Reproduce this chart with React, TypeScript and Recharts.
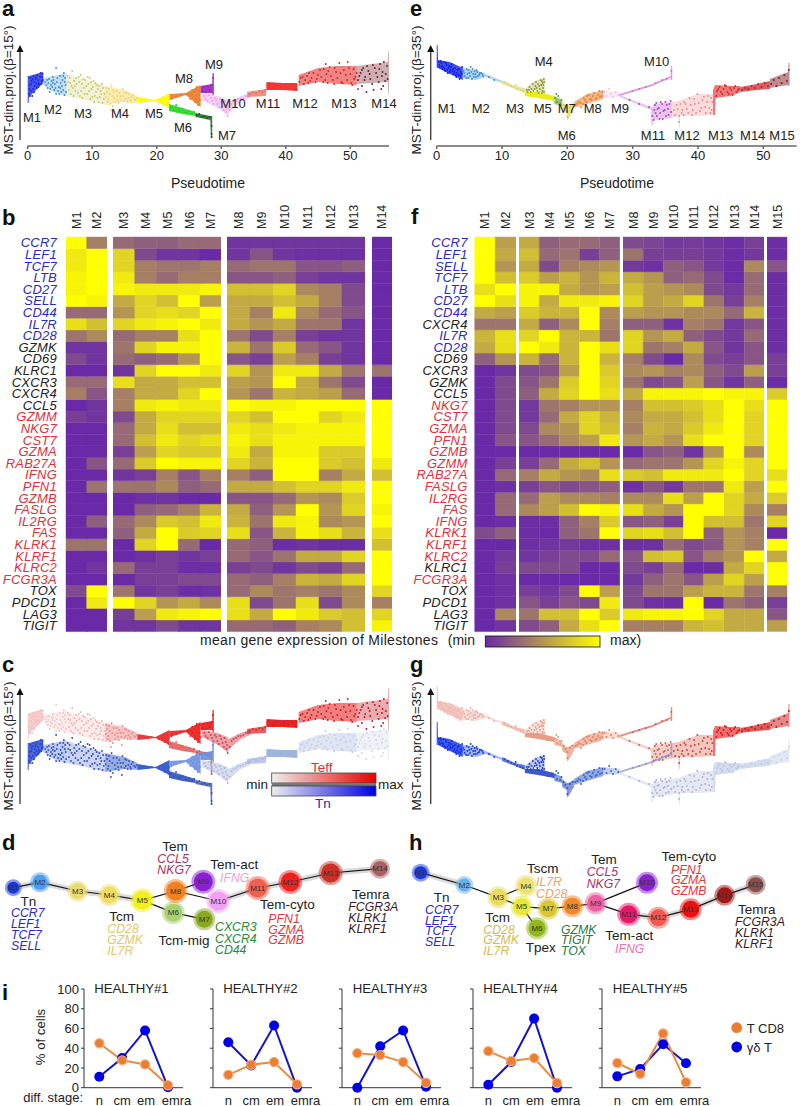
import {
  Area,
  Bar,
  BarChart,
  Cell,
  ComposedChart,
  Line,
  LineChart,
  Scatter,
  ScatterChart,
  XAxis,
  YAxis,
} from "recharts";

const FONT = "'Liberation Sans', Arial, sans-serif";

// ---------- trajectories (a, c: beta 15 / e, g: beta 35) ----------
// bands are [pseudotime, low, high] per milestone, points are [pseudotime, proj]
const aBands = [
  [[0, 43, 70], [0.15, 43, 70], [0.2, 49, 70], [2.4, 63, 74]],
  [[2.4, 61, 68], [4, 54, 70], [6, 50, 73]],
  [[6, 50, 72], [9, 46, 66], [12, 41, 60]],
  [[12, 41, 60], [15, 44, 56], [17, 43, 50]],
  [[17, 43, 49], [19.8, 45, 46], [22, 38, 53]],
  [[21.9, 35, 42], [24, 32, 38], [26, 30, 34]],
  [[26, 29, 33], [28.3, 26, 30], [28.4, 8, 30], [28.6, 8, 30]],
  [[22, 46, 52], [24.5, 51, 53], [26.8, 39, 61]],
  [[26.8, 53, 60], [28.6, 53, 62], [28.65, 51, 73], [28.85, 51, 73]],
  [[27, 46, 53], [29.5, 38, 50], [30.9, 31, 46], [31, 28, 46], [31.1, 33, 44], [33, 44, 50], [34.5, 48, 53]],
  [[34, 49, 54], [36.9, 50, 57], [37, 55, 64]],
  [[37, 56, 64], [39.5, 56, 63], [41.8, 55, 63]],
  [[42, 60, 71], [45, 64, 78], [48, 62, 80], [51, 61, 80]],
  [[51, 62, 80], [55.8, 64, 84], [55.9, 52, 95], [56, 52, 95]],
];

const aPoints = [
  [[0.2, 52], [0.3, 61], [0.4, 68], [0.5, 55], [0.6, 65], [0.8, 57], [0.9, 70], [1.1, 60], [1.2, 67], [1.4, 58], [1.5, 71], [1.7, 63], [1.9, 69], [2, 73], [2.2, 65], [2.3, 72], [0.25, 57], [0.35, 50], [0.55, 62], [0.7, 50], [0.75, 67], [1, 54], [1.05, 64], [1.3, 69], [1.35, 62], [1.6, 66], [1.65, 59], [1.8, 61], [2.1, 62], [2.25, 69], [2.35, 66]],
  [[2.7, 64], [3.1, 58], [3.3, 67], [3.6, 61], [3.9, 69], [4.1, 56], [4.4, 78], [4.5, 64], [4.8, 59], [5, 70], [5.2, 54], [5.4, 66], [5.6, 73], [5.7, 51], [5.9, 61], [3.4, 54], [4.2, 62], [4.9, 52], [5.3, 60], [2.9, 61], [3, 66], [3.2, 63], [3.5, 57], [3.7, 65], [3.8, 59], [4, 66], [4.3, 58], [4.6, 68], [4.7, 55], [5.1, 63], [5.5, 56], [5.8, 68], [5.95, 54], [5.5, 70], [4.4, 52], [3.9, 63], [5.05, 58], [5.75, 64]],
  [[6.2, 70], [6.4, 56], [6.6, 63], [6.9, 75], [7.1, 50], [7.3, 60], [7.5, 68], [7.8, 53], [8, 64], [8.2, 71], [8.5, 48], [8.7, 58], [8.9, 66], [9.2, 52], [9.4, 62], [9.7, 47], [9.9, 57], [10.2, 65], [10.4, 50], [10.7, 61], [11, 44], [11.3, 55], [11.5, 62], [11.8, 47], [7, 58], [8.3, 55], [9.6, 68], [10.6, 54], [6.3, 64], [6.5, 68], [6.7, 52], [6.8, 60], [7.2, 65], [7.4, 55], [7.6, 62], [7.9, 69], [8.1, 50], [8.4, 62], [8.6, 67], [8.8, 52], [9.1, 60], [9.3, 69], [9.5, 55], [9.8, 64], [10, 49], [10.1, 59], [10.3, 44], [10.5, 63], [10.8, 48], [10.9, 57], [11.1, 60], [11.2, 49], [11.4, 52], [11.6, 43], [11.7, 58], [11.9, 52]],
  [[12.2, 58], [12.4, 44], [12.7, 52], [13, 60], [13.2, 40], [13.5, 48], [13.8, 55], [14.1, 43], [14.4, 50], [14.7, 57], [15, 45], [15.3, 53], [15.6, 48], [16, 44], [16.3, 51], [16.7, 46], [12.9, 36], [14.6, 38], [12.1, 49], [12.3, 54], [12.5, 47], [12.6, 57], [12.8, 42], [13.1, 50], [13.3, 55], [13.6, 44], [13.9, 50], [14, 46], [14.2, 53], [14.5, 46], [14.8, 50], [15.1, 54], [15.2, 47], [15.5, 44], [15.7, 52], [15.9, 46], [16.1, 49], [16.5, 47], [16.9, 48]],
  [[18, 47], [18.6, 45], [19.2, 46], [20.3, 44], [20.8, 48], [21.2, 41], [21.5, 50], [21.8, 39], [21.9, 46]],
  [[22.2, 39], [22.6, 36], [23, 41], [23.5, 35], [24, 37], [24.5, 33], [25, 35], [25.5, 32], [25.8, 34]],
  [[26.2, 31], [26.6, 32], [27, 29], [27.4, 30], [27.8, 28], [28.2, 29], [28.5, 20], [28.5, 12], [28.5, 9]],
  [[22.3, 47], [23, 49], [23.7, 51], [24.8, 52], [25.2, 47], [25.5, 56], [25.9, 44], [26.2, 59], [26.4, 41], [26.6, 51], [25.6, 50], [25.8, 54], [26, 47], [26.1, 57], [26.3, 44], [26.5, 55], [26.7, 46], [26.7, 58], [25.3, 52], [26.2, 50]],
  [[27, 55], [27.3, 59], [27.6, 54], [27.9, 60], [28.2, 56], [28.5, 61], [28.7, 68]],
  [[27.4, 50], [27.9, 45], [28.4, 48], [28.8, 42], [29.2, 46], [29.6, 39], [30, 44], [30.4, 36], [30.7, 41], [31, 30], [31.6, 42], [32.3, 45], [33, 47], [33.8, 50], [27.6, 47], [28.1, 51], [28.6, 45], [29, 48], [29.4, 42], [29.8, 47], [30.2, 40], [30.5, 45], [30.8, 34], [30.9, 38], [31.3, 36], [31.9, 44], [32.6, 47], [33.4, 48], [34.1, 51]],
  [[34.4, 52], [34.9, 54], [35.4, 53], [35.9, 55], [36.4, 54], [36.8, 56]],
  [[37.4, 62], [38, 58], [38.6, 61], [39.2, 59], [39.8, 60], [40.4, 58], [41, 61], [41.6, 57]],
  [[42.3, 68], [42.8, 62], [43.3, 70], [43.8, 65], [44.3, 73], [44.8, 67], [45.3, 76], [45.8, 64], [46.3, 72], [46.8, 79], [47.3, 66], [47.8, 74], [48.3, 83], [48.8, 63], [49.3, 71], [49.8, 78], [50.3, 61], [50.8, 69], [51.2, 57], [42.1, 64], [42.6, 69], [43, 66], [43.5, 63], [43.6, 73], [44, 68], [44.6, 64], [45, 71], [45.5, 69], [45.9, 77], [46.1, 66], [46.5, 63], [46.6, 75], [47, 70], [47.5, 62], [47.6, 78], [48, 68], [48.5, 73], [48.6, 64], [49, 76], [49.5, 66], [50, 72], [50.1, 63], [50.5, 77], [50.6, 67], [51, 73], [46.2, 82], [49.6, 84]],
  [[51.4, 70], [51.8, 76], [52.2, 66], [52.6, 80], [53, 72], [53.4, 62], [53.8, 78], [54.2, 69], [54.6, 82], [55, 74], [55.4, 65], [55.7, 80], [52.5, 54], [54.8, 57], [51.2, 66], [51.6, 73], [52, 78], [52.3, 69], [52.8, 75], [53.1, 67], [53.5, 81], [54, 73], [54.4, 64], [54.5, 77], [54.9, 70], [55.2, 84], [55.5, 72], [55.8, 67], [53.6, 56], [55.1, 60], [51.8, 60]],
];

const eBands = [
  [[0, 78, 101], [0.15, 78, 101], [0.2, 78, 86], [2, 72, 84], [4, 66, 78]],
  [[4, 68, 78], [6, 66, 76], [7.5, 69, 72], [10, 63, 65]],
  [[10, 62, 66], [12, 57, 60], [13.5, 53, 58]],
  [[13.5, 54, 57], [15, 56, 65], [16.4, 52, 68], [16.55, 52, 68]],
  [[13.5, 50, 54], [15.5, 48, 54], [18, 45, 50]],
  [[18, 42, 50], [19.2, 40, 46]],
  [[19.2, 36, 44], [19.9, 33, 40], [19.95, 26, 40], [20.1, 26, 40], [21, 36, 43]],
  [[21, 38, 44], [23, 42, 52], [25.5, 47, 56]],
  [[25.5, 48, 56], [28, 49, 54]],
  [[28, 50, 52], [33, 60, 62], [35.8, 68, 70], [35.85, 66, 80], [36.05, 66, 80]],
  [[28, 49, 51], [32.8, 36, 39], [32.85, 21, 39], [33.1, 21, 39], [33.2, 26, 42], [36, 28, 44]],
  [[36, 28, 44], [37, 30, 45], [37.05, 18, 45], [37.2, 18, 45], [37.3, 30, 46], [40, 30, 52], [42.3, 31, 52]],
  [[42.3, 31, 56], [42.6, 31, 61], [42.7, 48, 61], [45, 50, 60], [46.5, 54, 60]],
  [[46.5, 54, 59], [49, 56, 62], [51, 57, 65]],
  [[51, 58, 67], [53.8, 61, 74], [53.85, 60, 83], [54, 60, 83]],
];

const ePoints = [
  [[0.3, 84], [0.5, 79], [0.7, 83], [0.9, 77], [1.1, 84], [1.3, 75], [1.5, 81], [1.7, 73], [1.9, 80], [2.1, 76], [2.3, 82], [2.6, 72], [2.8, 78], [3, 69], [3.2, 76], [3.5, 67], [3.7, 74], [3.9, 79], [0.4, 81], [0.6, 85], [0.8, 80], [1, 79], [1.2, 77], [1.4, 83], [1.6, 76], [1.8, 78], [2, 74], [2.2, 79], [2.4, 75], [2.5, 77], [2.7, 74], [2.9, 71], [3.1, 73], [3.3, 71], [3.4, 77], [3.6, 70], [3.8, 72]],
  [[4.1, 75], [4.3, 70], [4.6, 77], [4.8, 68], [5, 73], [5.2, 79], [5.4, 67], [5.6, 72], [5.8, 75], [6, 69], [6.2, 74], [6.5, 71], [6.8, 73], [7.1, 70], [8, 69], [8.8, 66], [4.2, 73], [4.5, 68], [4.7, 72], [4.9, 76], [5.1, 70], [5.3, 74], [5.5, 77], [5.7, 69], [5.9, 72], [6.1, 76], [6.3, 70], [6.6, 73], [7, 72]],
  [[10.4, 64], [10.9, 62], [11.4, 60], [11.9, 59], [12.3, 57], [12.8, 56], [13.2, 55], [12.1, 61]],
  [[13.8, 56], [14.2, 59], [14.4, 54], [14.7, 62], [15, 57], [15.2, 64], [15.4, 55], [15.7, 60], [15.9, 66], [16.1, 53], [16.2, 63], [16.3, 58], [16.4, 67], [13.9, 54], [14.1, 56], [14.5, 57], [14.8, 55], [15.1, 60], [15.3, 58], [15.5, 62], [15.6, 53], [15.8, 57], [16, 61], [16.1, 65], [16.2, 55], [16.3, 61], [16.45, 54], [16.45, 64]],
  [[14, 52], [14.6, 50], [15.2, 53], [15.8, 49], [16.4, 51], [17, 47], [17.6, 49], [17.9, 46]],
  [[18.1, 48], [18.4, 44], [18.6, 50], [18.9, 43], [19.1, 46], [18.3, 52]],
  [[19.4, 41], [19.7, 38], [20, 35], [20, 29], [20.4, 39], [20.8, 41]],
  [[21.2, 41], [21.7, 44], [22.1, 39], [22.5, 48], [22.9, 44], [23.3, 51], [23.7, 46], [24.1, 53], [24.5, 48], [24.9, 55], [25.3, 50], [21.5, 42], [22, 43], [22.4, 42], [22.7, 46], [23, 50], [23.5, 47], [23.9, 50], [24.3, 47], [24.7, 51], [25, 49], [25.4, 54]],
  [[25.7, 54], [26, 50], [26.4, 57], [26.7, 52], [27, 49], [27.4, 54], [27.8, 51]],
  [[30, 55], [31, 57], [32, 59], [33.5, 63], [34.5, 66], [35.2, 67], [35.9, 75]],
  [[29.5, 46], [31, 42], [32.5, 39], [33, 30], [33.4, 41], [33.7, 30], [34, 38], [34.3, 44], [34.6, 27], [34.9, 36], [35.2, 41], [35.5, 31], [35.8, 45], [33.2, 26], [33.3, 36], [33.5, 33], [33.6, 43], [33.8, 37], [34.1, 27], [34.2, 33], [34.5, 42], [34.7, 35], [35, 44], [35.1, 30], [35.4, 37], [35.6, 42], [35.9, 34]],
  [[36.3, 36], [36.7, 41], [37.1, 24], [37.5, 33], [37.9, 44], [38.3, 37], [38.7, 48], [39.1, 31], [39.5, 42], [39.9, 52], [40.3, 35], [40.7, 46], [41.1, 39], [41.5, 50], [41.9, 33], [42.2, 44], [36.5, 31], [36.9, 37], [37.1, 30], [37.3, 42], [37.6, 36], [37.8, 31], [38.1, 42], [38.5, 33], [38.9, 41], [39.2, 36], [39.4, 47], [39.7, 33], [40.1, 43], [40.5, 38], [40.9, 49], [41.2, 33], [41.4, 44], [41.7, 38], [42, 48], [42.1, 36]],
  [[42.9, 55], [43.3, 59], [43.7, 52], [44.1, 61], [44.5, 54], [44.9, 58], [45.3, 51], [45.7, 60], [46.1, 56], [42.8, 50], [43.1, 57], [43.5, 54], [43.9, 57], [44.3, 60], [44.7, 52], [45.1, 56], [45.5, 58], [45.9, 54], [46.3, 57]],
  [[46.7, 56], [47.2, 58], [47.7, 57], [48.2, 60], [48.7, 58], [49.2, 62], [49.7, 59], [50.2, 63], [50.7, 60]],
  [[51.2, 62], [51.6, 66], [52, 60], [52.4, 68], [52.8, 63], [53.2, 71], [53.6, 65], [53.9, 76]],
];

const aColors = ["#1a2ae0", "#3b8fd2", "#c9c860", "#efd66a", "#fbfb10", "#20d820", "#0f5a14", "#ea7a2a", "#9a1fc4", "#ee9fe8", "#ea6a58", "#f22c2c", "#de2020", "#6e1a22"];
const eColors = ["#1020e8", "#3a8fcf", "#dcd66c", "#8f9a2c", "#e8ec10", "#5a9a2a", "#d8d040", "#e97d2a", "#f3b8ec", "#d070d0", "#b040c0", "#e88a8a", "#e02020", "#c81820", "#7a1a20"];
const cReds = ["#f4c0c0", "#f2c5c5", "#f0b0b0", "#ee8a8a", "#e83838", "#e06060", "#cc5a5a", "#ee1c1c", "#e81818", "#d84050", "#d92a2a", "#e81818", "#e01818", "#c01420"];
const cBlues = ["#2040d0", "#2c50d0", "#3050c0", "#3458c4", "#3a60cc", "#3050c0", "#3a50a8", "#6f90e0", "#6f90e0", "#b0b8e0", "#a8b4dc", "#9cb0dc", "#c4cee8", "#d0d8e8"];
const gReds = ["#f0b8b0", "#eeb0a8", "#eca898", "#e8a090", "#e89880", "#e89070", "#e08060", "#e88060", "#e88060", "#d86050", "#d06050", "#d04030", "#e01010", "#d01010", "#c81010"];
const gBlues = ["#1030e8", "#1840e0", "#2040c0", "#2040d0", "#3050c8", "#3060c0", "#3050c0", "#3860c8", "#3860c8", "#9090c8", "#a8b0d8", "#a8b4d8", "#b8c4e4", "#c0cce8", "#c8d0e8"];
const aOpacity = [0.8, 0.3, 0.25, 0.5, 1, 0.9, 0.8, 0.9, 0.9, 0.5, 0.75, 0.95, 0.55, 0.35];
const eOpacity = [0.8, 0.4, 0.7, 0.3, 0.95, 0.6, 0.6, 0.55, 0.3, 0.7, 0.3, 0.3, 0.6, 0.7, 0.5];
const pseudoTicks = [0, 10, 20, 30, 40, 50];

// ---------- heatmaps (0 = min, 10 = max) ----------
const genesB = ["CCR7", "LEF1", "TCF7", "LTB", "CD27", "SELL", "CD44", "IL7R", "CD28", "GZMK", "CD69", "KLRC1", "CXCR3", "CXCR4", "CCL5", "GZMM", "NKG7", "CST7", "GZMA", "RAB27A", "IFNG", "PFN1", "GZMB", "FASLG", "IL2RG", "FAS", "KLRK1", "KLRF1", "KLRC2", "FCGR3A", "TOX", "PDCD1", "LAG3", "TIGIT"];
const heatB = [
  [10, 4, 3, 2.5, 2.5, 3, 3, 0.5, 0.5, 0.5, 0.5, 0.5, 0.5, 0],
  [9, 10, 8, 1.5, 0.5, 0.5, 0, 0.5, 2, 0.5, 0.3, 0.3, 0.3, 0],
  [9, 10, 8, 4, 3.5, 3.5, 4, 3, 3.5, 3.5, 2, 2, 2.5, 0],
  [9.5, 10, 9, 4, 3, 4, 4, 2, 2, 2.5, 1, 0.5, 0.5, 0],
  [9.5, 10, 9.5, 9, 9, 9, 9.5, 7, 7, 8, 4.5, 4, 1.5, 0],
  [10, 9.5, 6, 8, 7, 10, 5.5, 6, 6, 7, 6, 4, 1.5, 0],
  [3, 3, 5, 8, 8.5, 8, 10, 6, 4, 9, 4.5, 3, 2, 0],
  [8.5, 7, 8, 9, 9.5, 10, 9, 6, 5, 6, 3.5, 3.5, 0.5, 0],
  [3.5, 4.5, 3, 4, 4, 8.5, 10, 3.5, 1.5, 4, 1, 0.5, 0.5, 0],
  [0.5, 0.5, 3.5, 8, 9.5, 9.5, 10, 6.5, 3.5, 7.5, 3, 2, 0.5, 0],
  [1.5, 0.5, 3, 2.5, 3, 5, 10, 2, 1, 5.5, 4, 1, 0.5, 0],
  [0, 0, 0.5, 8, 10, 10, 9, 8, 5, 9, 9, 6, 3.5, 3.5],
  [3, 3, 8.5, 6, 6, 7, 7, 5.5, 5, 10, 6, 3.5, 1.5, 0],
  [4, 2, 4, 6, 6, 8, 10, 5, 3.5, 6.5, 6, 5.5, 3, 0],
  [0, 0.5, 4, 9, 9.5, 9, 9, 10, 9.5, 9.5, 10, 10, 10, 10],
  [1, 0.5, 1.5, 6, 8, 8, 8, 8, 7, 10, 10, 8, 9, 10],
  [0, 0, 3, 6, 8.5, 7, 7, 9, 8.5, 9, 9.5, 9.5, 9.5, 10],
  [0, 0, 3, 7, 9, 8, 8.5, 9.5, 8.5, 9.5, 9.5, 9.5, 9.5, 10],
  [0, 0, 1, 5.5, 8, 7.5, 7.5, 9, 6, 9.5, 9.5, 7.5, 7.5, 10],
  [0, 2, 3, 7.5, 10, 9.5, 9.5, 8, 6.5, 10, 10, 7.5, 7, 9],
  [0, 0, 0.5, 1, 4, 2, 4, 4, 2.5, 10, 10, 4, 6, 7],
  [0, 3.5, 3.5, 3.5, 4.5, 2.5, 3, 6, 6, 7, 8, 8, 9, 10],
  [0, 0, 0, 0.3, 0.5, 0, 0, 2, 2, 3, 5, 4.5, 7.5, 10],
  [0, 0, 0, 2.5, 3, 4, 6.5, 6, 2.5, 5, 10, 5, 8, 9.5],
  [0, 2.5, 3, 4.5, 7.5, 7, 9, 6.5, 3.5, 9, 9.5, 4.5, 5, 10],
  [0, 0, 2.5, 6, 10, 7.5, 8, 8.5, 2, 6.5, 9.5, 8.5, 6.5, 8.5],
  [3.5, 3.5, 0, 8, 10, 3, 0, 3, 2.5, 0.2, 0.5, 0.2, 0.2, 7],
  [0, 0, 0, 0.3, 1, 0.5, 1, 3, 2, 3.5, 6, 6, 8, 10],
  [0, 0.5, 3, 1, 1, 0.2, 0.2, 1, 1.5, 0.5, 1.5, 1, 3, 10],
  [0, 0, 0, 1, 1, 1.5, 1.5, 3, 2.5, 4, 6.5, 6, 8, 10],
  [1.5, 10, 3.5, 0.5, 1, 0.2, 0.3, 3, 4.5, 3.5, 4, 3.5, 4.5, 8],
  [0, 9, 10, 8, 5, 6, 4.5, 8.5, 1.5, 3.5, 8.5, 1.5, 4.5, 4],
  [0, 0, 1, 5.5, 9, 9.5, 10, 8.5, 6, 10, 9, 7.5, 7, 8],
  [0, 0, 0.5, 0.5, 1.5, 0.5, 0.5, 3, 3, 2.5, 4, 4.5, 7, 9.5],
];
const blueB = ["CCR7", "LEF1", "TCF7", "LTB", "CD27", "SELL", "CD44", "IL7R", "CD28"];
const blackB = ["GZMK", "CD69", "KLRC1", "CXCR3", "CXCR4", "CCL5", "TOX", "PDCD1", "LAG3", "TIGIT"];

const genesF = ["CCR7", "LEF1", "SELL", "TCF7", "LTB", "CD27", "CD44", "CXCR4", "IL7R", "CD28", "CD69", "CXCR3", "GZMK", "CCL5", "NKG7", "CST7", "GZMA", "PFN1", "GZMB", "GZMM", "RAB27A", "FASLG", "IL2RG", "FAS", "IFNG", "KLRK1", "KLRF1", "KLRC2", "KLRC1", "FCGR3A", "TOX", "PDCD1", "LAG3", "TIGIT"];
const heatF = [
  [10, 5.5, 6, 2.5, 3, 3, 2.5, 1.5, 1.2, 0.7, 0.8, 0.5, 0.2, 1, 0.2],
  [10, 6, 7, 3, 3.5, 1, 2.5, 3.5, 1, 1, 1, 0.7, 0.2, 0.7, 0.2],
  [10, 5, 6, 1.5, 4, 4.5, 5, 0.7, 0.3, 2.5, 2, 0.7, 0.1, 4.5, 2],
  [10, 7, 7.5, 5.5, 6.5, 5, 6.5, 6, 5, 2.5, 3, 1.5, 0.1, 3, 0.2],
  [8.5, 10, 9.5, 9.5, 6, 5, 5.5, 7, 5.5, 5, 4.5, 1.5, 0.7, 3, 0.2],
  [10, 8.5, 9.5, 6, 9, 9, 9.5, 8, 5.5, 6, 8, 3.5, 1, 4, 0.2],
  [6, 5.5, 7.5, 6.5, 6.5, 10, 4.5, 5.5, 5, 5, 4.5, 4.5, 3, 6.5, 0.2],
  [3.5, 3.5, 6, 2.5, 4.5, 10, 4, 2.5, 2.5, 0.3, 4, 3.5, 0.7, 2, 0.2],
  [6.5, 8.5, 8, 10, 6.5, 6.5, 3.5, 8, 5, 6, 2.5, 1.5, 0.7, 3, 0.2],
  [6, 8.5, 10, 9, 6.5, 10, 8.5, 8, 3.5, 4, 6, 2, 0.5, 2, 0.2],
  [2.5, 5, 6.5, 3, 6.5, 10, 6.5, 4, 1.5, 0, 4.5, 1.5, 1, 2, 1],
  [0, 0.5, 1.5, 2, 5.5, 10, 7.5, 4.5, 5, 4, 4.5, 2.5, 1.5, 5.5, 1],
  [0, 1.5, 2, 3.5, 7.5, 10, 8, 3.5, 1.5, 2, 5.5, 2, 0.5, 2.5, 0.1],
  [0, 1.5, 2.5, 6, 8, 10, 8.5, 6, 9.5, 9.5, 9.5, 10, 9.5, 9.5, 7.5],
  [0, 1.5, 0.7, 3.5, 4, 5, 5, 4, 7, 7, 7.5, 8.5, 10, 8.5, 10],
  [0, 1.5, 0.7, 3, 6, 8, 6.5, 4.5, 6, 6, 7, 8.5, 10, 8, 10],
  [0, 1.5, 1.5, 4.5, 5, 8, 7, 4, 6.5, 6, 7.5, 9, 10, 8, 10],
  [0, 2, 2, 3, 4.5, 5.5, 9, 5, 6, 5, 8.5, 10, 10, 8, 10],
  [0, 0, 0, 0, 0, 0, 0, 0, 2, 2.5, 0.5, 5, 10, 4.5, 10],
  [0, 1, 1, 3, 6, 7, 5, 3, 3.5, 3.5, 5, 8, 9.5, 8, 10],
  [0, 3, 4, 6, 5, 4.5, 8.5, 7.5, 7, 9, 9, 9, 10, 8, 8.5],
  [0, 0.3, 1, 2, 1.5, 2, 2.5, 0.3, 2, 0.7, 3.5, 3.5, 9, 5.5, 10],
  [0, 3, 3, 5.5, 4.5, 4.5, 4, 4.5, 4.5, 8.5, 5.5, 10, 8, 6, 7.5],
  [0, 3, 4.5, 5.5, 7, 10, 9.5, 8.5, 6, 5, 10, 10, 8, 4.5, 4],
  [0, 0.2, 0.2, 0.2, 2.5, 4, 7.5, 2, 2.5, 1, 10, 7, 7, 3.5, 8],
  [1.5, 2.5, 0.2, 0, 2.5, 3.5, 10, 8, 8.5, 7, 10, 2.5, 5, 4, 0],
  [0, 0, 0.3, 0.5, 0.7, 0.3, 0.3, 0.3, 0.3, 3, 1.5, 2, 5, 4, 10],
  [0, 0.7, 0.5, 1, 1.5, 1.5, 3, 2, 7, 7.5, 2, 4, 5, 10, 6],
  [0, 1, 1.5, 1.5, 1.5, 0, 0, 1.5, 1, 3, 0, 0.2, 6, 8, 10],
  [0, 0.3, 0, 0, 0, 0, 0, 0.7, 2.5, 3.5, 2, 5.5, 8, 5.5, 10],
  [0, 0.3, 1, 0.5, 1.5, 10, 5.5, 1.5, 3.5, 3.5, 5.5, 6.5, 6.5, 3.5, 4],
  [0, 0.3, 2, 1, 2, 1.5, 9, 1.5, 0.3, 0.2, 10, 0, 3.5, 2.5, 1],
  [0, 4.5, 3.5, 7, 7, 10, 7.5, 9, 9.5, 9.5, 10, 8, 6, 6, 2],
  [0, 0.5, 1.5, 2.5, 6, 8.5, 10, 4, 4, 4, 6.5, 7, 6, 6, 5.5],
];
const blueF = ["CCR7", "LEF1", "SELL", "TCF7", "LTB", "CD27", "CD44", "IL7R", "CD28"];
const blackF = ["CXCR4", "CD69", "CXCR3", "GZMK", "CCL5", "KLRC1", "TOX", "PDCD1", "LAG3", "TIGIT"];

// ---------- MST layouts, in the coordinates of panels d and h ----------
const nodesD = ["M1", "M2", "M3", "M4", "M5", "M6", "M7", "M8", "M9", "M10", "M11", "M12", "M13", "M14"];
const nodeXD = [40, 120, 233, 328, 427, 520, 613, 527, 610, 655, 773, 871, 992, 1140];
const nodeYD = [188, 172, 198, 210, 226, 263, 283, 198, 170, 228, 189, 171, 144, 131];
const nodeSizeD = [8.5, 10, 10.5, 11, 12, 11.5, 11, 12, 12, 12, 12, 12, 12, 10];
const nodeColorD = ["#1a35d8", "#4a9cf0", "#e8dc70", "#f0dc60", "#f0f020", "#a8d070", "#8aa820", "#f08020", "#8a20d0", "#f0a0f0", "#f06050", "#ee2020", "#c83028", "#a86060"];
const edgesD = [[0, 1], [1, 2], [2, 3], [3, 4], [4, 7], [4, 5], [5, 6], [7, 8], [7, 9], [9, 10], [10, 11], [11, 12], [12, 13]];

const nodesH = ["M1", "M2", "M3", "M4", "M5", "M6", "M7", "M8", "M9", "M10", "M11", "M12", "M13", "M14", "M15"];
const nodeXH = [62, 193, 295, 378, 365, 411, 445, 517, 587, 741, 686, 775, 872, 974, 1067];
const nodeYH = [143, 180, 217, 183, 245, 310, 251, 244, 235, 173, 268, 278, 253, 211, 179];
const nodeSizeH = [9, 9, 11, 11, 11, 11, 11, 11, 11, 11, 11.5, 11, 11, 10.5, 10];
const nodeColorH = ["#1a35d8", "#6ab0e8", "#e8dc60", "#f0e070", "#e8e838", "#90b818", "#d8c830", "#f08828", "#f060a0", "#8a20d0", "#e81868", "#f05850", "#e81010", "#a01818", "#8a5050"];
const edgesH = [[0, 1], [1, 2], [2, 3], [2, 4], [4, 5], [4, 6], [6, 7], [7, 8], [8, 9], [8, 10], [10, 11], [11, 12], [12, 13], [13, 14]];

// ---------- panel i ----------
const stages = ["n", "cm", "em", "emra"];
const donors = ["HEALTHY#1", "HEALTHY#2", "HEALTHY#3", "HEALTHY#4", "HEALTHY#5"];
const gammaDelta = [
  [11, 30, 58, 0.5],
  [46, 22.6, 63, 0],
  [0, 42, 58, 1],
  [3, 26, 70, 0],
  [11.5, 19, 44, 24.7],
];
const tCD8 = [
  [45, 27.7, 23.6, 2.4],
  [13, 23.3, 26, 3.4],
  [35, 33, 26, 5],
  [37, 27, 30, 4.7],
  [25, 14, 55, 5.4],
];
const percentTicks = [0, 20, 40, 60, 80, 100];

function heatColor(v: number) {
  const t = v / 10;
  const r = Math.round(106 + (255 - 106) * t);
  const g = Math.round(42 + (255 - 42) * t);
  const b = Math.round(168 - 168 * t);
  return `rgb(${r},${g},${b})`;
}

function Trajectory({ bands, points, colors, opacity, left, width, xMax, baseline, withAxis }: any) {
  const rows = bands.flatMap((band: number[][], i: number) =>
    band.map(([x, lo, hi]) => ({ x, [`m${i}`]: [lo, hi] }))
  );
  const axisH = withAxis ? 25 : 0;
  return (
    <div style={{ position: "absolute", left: 0, top: baseline - 106 }}>
      <ComposedChart
        width={left + width + 4}
        height={106 + axisH}
        data={rows}
        margin={{ left, right: 4, top: 0, bottom: 0 }}
      >
        <XAxis
          dataKey="x"
          type="number"
          domain={[0, xMax]}
          ticks={pseudoTicks}
          hide={!withAxis}
          height={axisH}
          stroke="#666"
          strokeWidth={1.5}
          tickSize={3}
          tick={{ fill: "#222", fontSize: 13, fontFamily: FONT }}
        />
        <YAxis type="number" domain={[0, 106]} hide />
        {bands.map((_: any, i: number) => (
          <Area
            key={`band-${i}`}
            dataKey={`m${i}`}
            type="linear"
            stroke="none"
            fill={colors[i]}
            fillOpacity={opacity[i]}
            dot={false}
            activeDot={false}
            connectNulls={false}
            isAnimationActive={false}
          />
        ))}
        {points.map((pts: number[][], i: number) => (
          <Scatter
            key={`pts-${i}`}
            data={pts.map(([x, y]) => ({ x, y }))}
            dataKey="y"
            isAnimationActive={false}
            shape={(p: any) => <circle cx={p.cx} cy={p.cy} r={0.95} fill={colors[i]} />}
          />
        ))}
      </ComposedChart>
    </div>
  );
}

function HeatBlock({ left, top, colWidth, columns, colStart, genes, matrix, geneColor, labelWidth = 0, labelGap = 9 }: any) {
  const rows = columns.map((m: string) => {
    const row: any = { m };
    genes.forEach((g: string) => (row[g] = 1));
    return row;
  });
  const n = genes.length;
  const plotW = colWidth * columns.length;
  const headH = 36;
  return (
    <div style={{ position: "absolute", left: left - labelWidth, top: top - headH }}>
      <BarChart
        width={plotW + labelWidth}
        height={394.6 + headH + 6}
        data={rows}
        margin={{ left: 0, right: 0, top: 0, bottom: 6 }}
        barCategoryGap={0}
        barGap={0}
      >
        <XAxis
          dataKey="m"
          orientation="top"
          height={headH}
          interval={0}
          axisLine={false}
          tickLine={false}
          tick={(p: any) => (
            <text
              x={p.x}
              y={headH - 8}
              dy={4.5}
              transform={`rotate(-90 ${p.x} ${headH - 8})`}
              fontSize={12.5}
              fontFamily={FONT}
              fill="#222"
            >
              {p.payload.value}
            </text>
          )}
        />
        <YAxis
          type="number"
          domain={[0, n]}
          hide={labelWidth === 0}
          width={labelWidth}
          ticks={genes.map((_: string, i: number) => n - 0.5 - i)}
          interval={0}
          axisLine={false}
          tickLine={false}
          tick={(p: any) => {
            const gene = genes[n - 0.5 - p.payload.value];
            return (
              <text
                x={labelWidth - labelGap}
                y={p.y}
                dy={4.5}
                textAnchor="end"
                fontSize={13}
                fontStyle="italic"
                letterSpacing={0.25}
                fontFamily={FONT}
                fill={geneColor(gene)}
              >
                {gene}
              </text>
            );
          }}
        />
        {[...genes].reverse().map((g: string) => {
          const rowVals = matrix[genes.indexOf(g)];
          return (
            <Bar key={g} dataKey={g} stackId="heat" isAnimationActive={false}>
              {columns.map((m: string, c: number) => {
                const fill = heatColor(rowVals[colStart + c]);
                return <Cell key={m} fill={fill} stroke={fill} strokeWidth={0.4} />;
              })}
            </Bar>
          );
        })}
      </BarChart>
    </div>
  );
}

function Network({ left, labels, xs, ys, sizes, colors, edges, backbone }: any) {
  const nodes = labels.map((name: string, i: number) => ({ name, x: xs[i], y: ys[i], size: sizes[i], color: colors[i] }));
  return (
    <div style={{ position: "absolute", left, top: 825 }}>
      <ScatterChart width={400} height={170} margin={{ left: 0, right: 0, top: 0, bottom: 0 }}>
        <XAxis type="number" dataKey="x" domain={[0, 1200]} hide />
        <YAxis type="number" dataKey="y" domain={[0, 510]} reversed hide />
        {backbone.map(([a, b]: number[], i: number) => (
          <Scatter
            key={`gray-${i}`}
            data={[nodes[a], nodes[b]]}
            line={{ stroke: "#bdbdbd", strokeWidth: 6, strokeOpacity: 0.55 }}
            shape={() => <g />}
            isAnimationActive={false}
          />
        ))}
        {edges.map(([a, b]: number[], i: number) => (
          <Scatter
            key={`edge-${i}`}
            data={[nodes[a], nodes[b]]}
            line={{ stroke: "#111", strokeWidth: 1.2 }}
            shape={() => <g />}
            isAnimationActive={false}
          />
        ))}
        <Scatter
          data={nodes}
          isAnimationActive={false}
          shape={(p: any) => (
            <g>
              <circle cx={p.cx} cy={p.cy} r={p.payload.size} fill={p.payload.color} fillOpacity={0.5} />
              <circle cx={p.cx} cy={p.cy} r={p.payload.size - 2.5} fill={p.payload.color} />
              <text
                x={p.cx}
                y={p.cy}
                dy={2.8}
                textAnchor="middle"
                fontSize={8}
                fontFamily={FONT}
                fill="#333"
              >
                {p.payload.name}
              </text>
            </g>
          )}
        />
      </ScatterChart>
    </div>
  );
}

function StagePanel({ axisX, donorIndex, showLabels }: any) {
  const rows = stages.map((stage, i) => ({
    stage,
    gd: gammaDelta[donorIndex][i],
    cd8: tCD8[donorIndex][i],
  }));
  const pad = 8;
  return (
    <div style={{ position: "absolute", left: axisX - 30, top: 988.6 - pad }}>
      <LineChart
        width={30 + 99 + 14}
        height={pad + 98.7 + 22}
        data={rows}
        margin={{ left: 0, right: 14, top: pad, bottom: 0 }}
      >
        <XAxis
          dataKey="stage"
          interval={0}
          height={22}
          padding={{ left: 15.3, right: 15 }}
          tickLine={false}
          stroke="#333"
          tick={(p: any) => (
            <text
              x={p.x + (p.payload.value === "emra" ? 8.5 : p.payload.value === "em" ? 1 : 0)}
              y={p.y}
              dy={9}
              textAnchor="middle"
              fontSize={13}
              fontFamily={FONT}
              fill="#222"
            >
              {p.payload.value}
            </text>
          )}
        />
        <YAxis
          domain={[0, 100]}
          ticks={percentTicks}
          interval={0}
          width={30}
          stroke="#333"
          tickSize={3}
          tickFormatter={(v: number) => (showLabels ? String(v) : "")}
          tick={{ fill: "#222", fontSize: 13, fontFamily: FONT }}
        />
        <Line
          dataKey="gd"
          stroke="#1414c8"
          strokeWidth={2}
          dot={{ r: 5, fill: "#0000e6", stroke: "#0000e6", strokeWidth: 0 }}
          isAnimationActive={false}
        />
        <Line
          dataKey="cd8"
          stroke="#ee8a3e"
          strokeWidth={2}
          dot={{ r: 4.6, fill: "#ed7d31", stroke: "#f3b080", strokeWidth: 1.2 }}
          isAnimationActive={false}
        />
      </LineChart>
    </div>
  );
}

function Arrow({ x, tip, end }: any) {
  return (
    <g>
      <line x1={x} x2={x} y1={tip + 5} y2={end} stroke="#444" strokeWidth={1.4} />
      <polygon points={`${x},${tip} ${x - 3.5},${tip + 7} ${x + 3.5},${tip + 7}`} fill="#111" />
    </g>
  );
}

function Txt({ x, y, children, size = 13, anchor = "middle", color = "#222", italic = false, bold = false, rotate, spacing }: any) {
  return (
    <text
      x={x}
      y={y}
      textAnchor={anchor}
      fontSize={size}
      fontFamily={FONT}
      fill={color}
      fontStyle={italic ? "italic" : "normal"}
      fontWeight={bold ? "bold" : "normal"}
      letterSpacing={spacing}
      transform={rotate ? `rotate(${rotate} ${x} ${y})` : undefined}
    >
      {children}
    </text>
  );
}

// milestone captions of the two trajectories: [text, x, y]
const captionsA: any[] = [["M1", 32, 122], ["M2", 53, 114], ["M3", 83, 118], ["M4", 120, 118], ["M5", 154, 118], ["M6", 183, 132], ["M7", 227, 140], ["M8", 184, 83], ["M9", 214, 69], ["M10", 233, 108], ["M11", 268, 108], ["M12", 305, 108], ["M13", 344, 108], ["M14", 384, 108]];
const captionsE: any[] = [["M1", 446.7, 113], ["M2", 480.7, 113], ["M3", 515, 113], ["M4", 543.7, 66], ["M5", 542.7, 113], ["M6", 566.7, 140], ["M7", 566.7, 113], ["M8", 592.7, 113], ["M9", 620, 113], ["M10", 656.7, 66], ["M11", 653, 140], ["M12", 687, 140], ["M13", 720.7, 140], ["M14", 752.7, 140], ["M15", 782, 140]];

// network captions in zoomed panel coordinates: [text, x, y, colour]; "" colour = title
const notesD: any[] = [
  ["Tn", 85, 228, ""], ["CCR7", 33, 263, "#2a2ac0"], ["LEF1", 33, 295, "#2a2ac0"], ["TCF7", 33, 328, "#2a2ac0"], ["SELL", 33, 361, "#2a2ac0"],
  ["Tcm", 365, 275, ""], ["CD28", 322, 312, "#e0c86a"], ["GZMK", 322, 344, "#e0c86a"], ["IL7R", 322, 376, "#e0c86a"],
  ["Tcm-mig", 552, 346, ""], ["CXCR3", 645, 305, "#2a8a3a"], ["CXCR4", 645, 340, "#2a8a3a"], ["CD44", 645, 375, "#2a8a3a"],
  ["Tem", 525, 65, ""], ["CCL5", 472, 100, "#b03060"], ["NKG7", 472, 135, "#b03060"],
  ["Tem-act", 703, 118, ""], ["IFNG", 660, 157, "#f0a0d8"],
  ["Tem-cyto", 862, 238, ""], ["PFN1", 805, 282, "#e03838"], ["GZMA", 805, 313, "#e03838"], ["GZMB", 805, 344, "#e03838"],
  ["Temra", 1112, 207, ""], ["FCGR3A", 1045, 245, "#3a1a28"], ["KLRK1", 1045, 277, "#3a1a28"], ["KLRF1", 1045, 310, "#3a1a28"],
];
const notesH: any[] = [
  ["Tn", 125, 218, ""], ["CCR7", 75, 253, "#2a2ac0"], ["LEF1", 75, 286, "#2a2ac0"], ["TCF7", 75, 318, "#2a2ac0"], ["SELL", 75, 351, "#2a2ac0"],
  ["Tcm", 293, 276, ""], ["CD28", 250, 313, "#d8b850"], ["GZMK", 250, 345, "#d8b850"], ["IL7R", 250, 377, "#d8b850"],
  ["Tscm", 428, 130, ""], ["IL7R", 408, 170, "#f0a070"], ["CD28", 408, 205, "#f0a070"],
  ["Tpex", 422, 367, ""], ["GZMK", 483, 313, "#2a7a3a"], ["TIGIT", 483, 345, "#2a7a3a"], ["TOX", 483, 377, "#2a7a3a"],
  ["Tem", 612, 103, ""], ["CCL5", 560, 140, "#b03060"], ["NKG7", 560, 175, "#b03060"],
  ["Tem-cyto", 867, 95, ""], ["PFN1", 813, 133, "#e03838"], ["GZMA", 813, 165, "#e03838"], ["GZMB", 813, 198, "#e03838"],
  ["Tem-act", 688, 332, ""], ["IFNG", 645, 370, "#f070a8"],
  ["Temra", 1070, 253, ""], ["FCGR3A", 1005, 291, "#3a1a28"], ["KLRK1", 1005, 323, "#3a1a28"], ["KLRF1", 1005, 355, "#3a1a28"],
];

function NetworkNotes({ notes, offset }: any) {
  return notes.map(([label, x, y, color]: any, i: number) =>
    color === "" ? (
      <Txt key={i} x={offset + x / 3} y={825 + y / 3 + 4.7} size={13.5}>{label}</Txt>
    ) : (
      <Txt key={i} x={offset + x / 3} y={825 + y / 3 + 4.3} size={12.3} anchor="start" italic color={color}>{label}</Txt>
    )
  );
}

export default function App() {
  const colorB = (g: string) => (blueB.includes(g) ? "#2a2ac0" : blackB.includes(g) ? "#222" : "#e0303a");
  const colorF = (g: string) => (blueF.includes(g) ? "#2a2ac0" : blackF.includes(g) ? "#222" : "#e0303a");
  const colsB = nodesD;
  const colsF = nodesH;
  const blockTop = 236.8;
  const axesI = [83.7, 212.7, 342.3, 472.7, 602.3];

  return (
    <div
      style={{
        position: "absolute",
        left: 0,
        top: 0,
        width: 800,
        height: 1106,
        overflow: "hidden",
        background: "#fff",
      }}
    >
      {/* a, e */}
      <Trajectory bands={aBands} points={aPoints} colors={aColors} opacity={aOpacity} left={27.7} width={361.3} xMax={55.6} baseline={146} withAxis />
      <Trajectory bands={eBands} points={ePoints} colors={eColors} opacity={eOpacity} left={436.7} width={360} xMax={55.1} baseline={146} withAxis />

      {/* b */}
      <HeatBlock left={66} top={blockTop} colWidth={20.65} columns={colsB.slice(0, 2)} colStart={0} genes={genesB} matrix={heatB} geneColor={colorB} labelWidth={66} />
      <HeatBlock left={112.7} top={blockTop} colWidth={21.74} columns={colsB.slice(2, 7)} colStart={2} genes={genesB} matrix={heatB} geneColor={colorB} />
      <HeatBlock left={227.3} top={blockTop} colWidth={23} columns={colsB.slice(7, 13)} colStart={7} genes={genesB} matrix={heatB} geneColor={colorB} />
      <HeatBlock left={372} top={blockTop} colWidth={20} columns={colsB.slice(13)} colStart={13} genes={genesB} matrix={heatB} geneColor={colorB} />

      {/* f */}
      <HeatBlock left={474.7} top={blockTop} colWidth={20.5} columns={colsF.slice(0, 2)} colStart={0} genes={genesF} matrix={heatF} geneColor={colorF} labelWidth={74.7} labelGap={7} />
      <HeatBlock left={519} top={blockTop} colWidth={20.2} columns={colsF.slice(2, 7)} colStart={2} genes={genesF} matrix={heatF} geneColor={colorF} />
      <HeatBlock left={622.7} top={blockTop} colWidth={20.2} columns={colsF.slice(7, 14)} colStart={7} genes={genesF} matrix={heatF} geneColor={colorF} />
      <HeatBlock left={767.3} top={blockTop} colWidth={20.4} columns={colsF.slice(14)} colStart={14} genes={genesF} matrix={heatF} geneColor={colorF} />

      {/* c, g: same projections, coloured by signature score */}
      <Trajectory bands={aBands} points={aPoints} colors={cReds} opacity={aOpacity} left={27.7} width={361.3} xMax={55.6} baseline={783} />
      <Trajectory bands={aBands} points={aPoints} colors={cBlues} opacity={aOpacity} left={27.7} width={361.3} xMax={55.6} baseline={813} />
      <Trajectory bands={eBands} points={ePoints} colors={gReds} opacity={eOpacity} left={436.7} width={360} xMax={55.1} baseline={787} />
      <Trajectory bands={eBands} points={ePoints} colors={gBlues} opacity={eOpacity} left={436.7} width={360} xMax={55.1} baseline={823} />

      {/* d, h */}
      <Network left={0} labels={nodesD} xs={nodeXD} ys={nodeYD} sizes={nodeSizeD} colors={nodeColorD} edges={edgesD} backbone={[[0, 1], [1, 2], [2, 3], [3, 4], [9, 10], [10, 11], [11, 12], [12, 13]]} />
      <Network left={400} labels={nodesH} xs={nodeXH} ys={nodeYH} sizes={nodeSizeH} colors={nodeColorH} edges={edgesH} backbone={[[0, 1], [10, 11], [11, 12], [12, 13], [13, 14]]} />

      {/* i */}
      {donors.map((_, i) => (
        <StagePanel key={i} axisX={axesI[i]} donorIndex={i} showLabels={i === 0} />
      ))}

      <svg width={800} height={1106} style={{ position: "absolute", left: 0, top: 0, pointerEvents: "none" }}>
        <defs>
          <linearGradient id="heatScale">
            <stop offset="0%" stopColor="#6a2aa8" />
            <stop offset="100%" stopColor="#ffff00" />
          </linearGradient>
          <linearGradient id="teffScale">
            <stop offset="0%" stopColor="#eeeeee" />
            <stop offset="100%" stopColor="#e60000" />
          </linearGradient>
          <linearGradient id="tnScale">
            <stop offset="0%" stopColor="#eeeeee" />
            <stop offset="100%" stopColor="#0000e0" />
          </linearGradient>
        </defs>

        {[["a", 2, 16], ["e", 410, 16], ["b", 2, 225], ["f", 411, 224], ["c", 2, 672], ["g", 410, 672], ["d", 2, 850], ["h", 409, 850], ["i", 2, 1000]].map(([l, x, y]: any) => (
          <Txt key={l} x={x} y={y} size={22} anchor="start" bold color="#111">{l}</Txt>
        ))}

        <Arrow x={20} tip={45} end={140} />
        <Arrow x={430.7} tip={45} end={140} />
        <Arrow x={20} tip={688} end={804} />
        <Arrow x={430.7} tip={688} end={804} />

        <Txt x={13} y={90} size={13.5} rotate={-90}>MST-dim.proj.(β=15°)</Txt>
        <Txt x={421} y={90} size={13.5} rotate={-90}>MST-dim.proj.(β=35°)</Txt>
        <Txt x={13} y={746} size={13.5} rotate={-90}>MST-dim.proj.(β=15°)</Txt>
        <Txt x={421} y={746} size={13.5} rotate={-90}>MST-dim.proj.(β=35°)</Txt>

        <Txt x={208} y={188} size={14}>Pseudotime</Txt>
        <Txt x={617} y={188} size={14}>Pseudotime</Txt>
        {captionsA.concat(captionsE).map(([t, x, y]: any, i: number) => (
          <Txt key={i} x={x} y={y}>{t}</Txt>
        ))}

        {/* expression scale */}
        <Txt x={200} y={644.5} anchor="start" size={14} spacing={0.3}>mean gene expression of Milestones</Txt>
        <Txt x={475} y={644.5} anchor="end" size={14}>(min</Txt>
        <rect x={485.3} y={636} width={114.7} height={11} fill="url(#heatScale)" stroke="#111" strokeWidth={0.8} />
        <Txt x={610} y={644.5} anchor="start" size={14}>max)</Txt>

        {/* Teff / Tn scale */}
        <Txt x={321.7} y={772} size={13.5} color="#e03030">Teff</Txt>
        <rect x={271.7} y={773} width={104.3} height={10} fill="url(#teffScale)" stroke="#444" strokeWidth={0.8} />
        <rect x={271.7} y={783} width={104.3} height={3} fill="#777" />
        <rect x={271.7} y={786} width={104.3} height={10} fill="url(#tnScale)" stroke="#444" strokeWidth={0.8} />
        <Txt x={323} y={808} size={13.5} color="#2a2ac0">Tn</Txt>
        <Txt x={268} y={789} anchor="end" size={13.5}>min</Txt>
        <Txt x={378} y={789} anchor="start" size={13.5}>max</Txt>

        <NetworkNotes notes={notesD} offset={0} />
        <NetworkNotes notes={notesH} offset={400} />

        {/* panel i captions */}
        {donors.map((d, i) => (
          <Txt key={d} x={axesI[i] + 10.5} y={993} anchor="start" size={13.2}>{d}</Txt>
        ))}
        <Txt x={45} y={1037} size={13.2} rotate={-90}>% of cells</Txt>
        <Txt x={83} y={1101.5} anchor="end" size={13}>diff. stage:</Txt>

        <circle cx={736.7} cy={1027.7} r={5.4} fill="#ed7d31" />
        <Txt x={746.7} y={1032.5} anchor="start" size={13}>T CD8</Txt>
        <circle cx={736.7} cy={1047} r={5.4} fill="#0000e0" />
        <Txt x={746.7} y={1052} anchor="start" size={13}>γδ T</Txt>
      </svg>
    </div>
  );
}
